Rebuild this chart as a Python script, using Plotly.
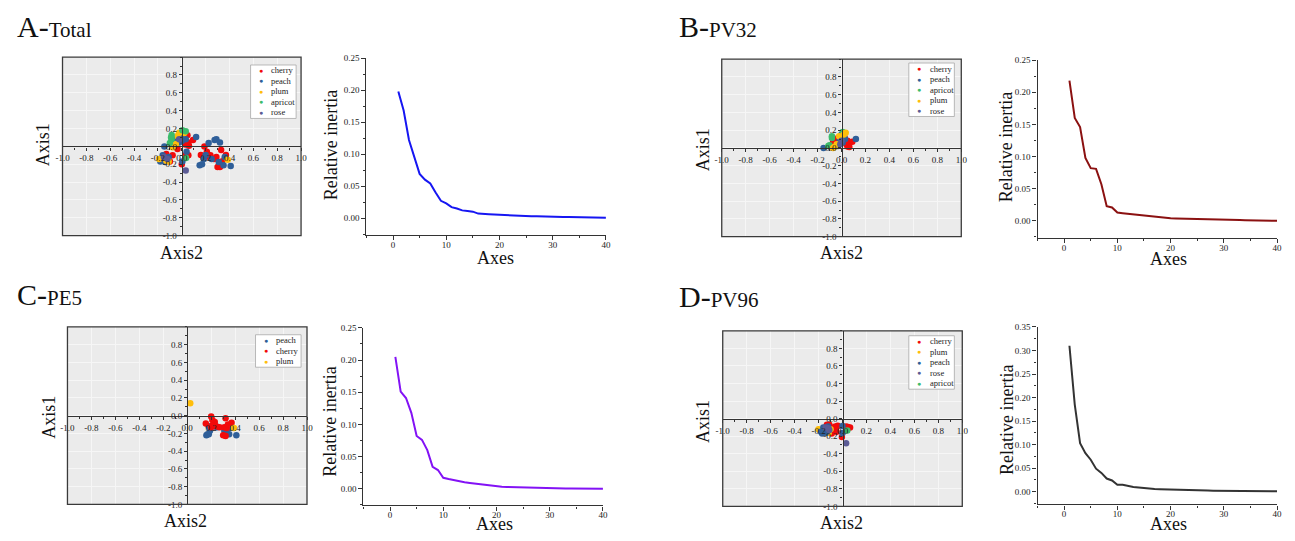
import plotly.graph_objects as go

# The page body has an 8px margin, so the figure is sized to fit the window
# and every layout pixel position is shifted by that margin.
WIN_W, WIN_H, OFF = 1295, 541, 8
W, H = WIN_W - 2 * OFF, WIN_H - 2 * OFF
SERIF = "Liberation Serif, Times New Roman, serif"

COLORS = {"cherry": "#f20a0a", "peach": "#2f5f99", "plum": "#ffbe0b",
          "apricot": "#3cbc6b", "rose": "#5b5b95"}

# ---------------- data ----------------
AXES = list(range(1, 41))

A_INERTIA = [0.198, 0.168, 0.122, 0.096, 0.069, 0.060, 0.054, 0.040, 0.027, 0.023,
             0.017, 0.015, 0.012, 0.011, 0.010, 0.007, 0.006, 0.006, 0.0055, 0.005,
             0.0045, 0.004, 0.004, 0.0035, 0.0033, 0.003, 0.003, 0.0025, 0.0023, 0.002,
             0.0018, 0.0016, 0.0015, 0.0013, 0.0012, 0.001, 0.0009, 0.0007, 0.0005, 0.0003]
B_INERTIA = [0.218, 0.160, 0.146, 0.098, 0.082, 0.081, 0.057, 0.023, 0.021, 0.013,
             0.012, 0.011, 0.010, 0.009, 0.008, 0.007, 0.006, 0.005, 0.0045, 0.004,
             0.0038, 0.0035, 0.0032, 0.003, 0.0028, 0.0026, 0.0024, 0.0022, 0.002, 0.0018,
             0.0016, 0.0014, 0.0013, 0.0012, 0.001, 0.0009, 0.0007, 0.0005, 0.0003, 0.0002]
C_INERTIA = [0.205, 0.151, 0.141, 0.118, 0.082, 0.076, 0.060, 0.034, 0.029, 0.017,
             0.015, 0.013, 0.012, 0.010, 0.009, 0.008, 0.006, 0.0055, 0.005, 0.004,
             0.003, 0.0028, 0.0025, 0.002, 0.0015, 0.0012, 0.001, 0.0009, 0.0007, 0.0005,
             0.0004, 0.0003, 0.0003, 0.0002, 0.0002, 0.0001, 0.0001, 0.0001, 0.0, 0.0]
D_INERTIA = [0.310, 0.185, 0.103, 0.082, 0.068, 0.049, 0.040, 0.028, 0.024, 0.015,
             0.015, 0.012, 0.010, 0.009, 0.0075, 0.007, 0.006, 0.0055, 0.005, 0.0045,
             0.004, 0.0038, 0.0035, 0.0032, 0.003, 0.0028, 0.0025, 0.0022, 0.002, 0.0019,
             0.0018, 0.0016, 0.0015, 0.0014, 0.0013, 0.0012, 0.0011, 0.001, 0.001, 0.001]

A_CHERRY = [(-0.02, 0.106), (0.047, 0.124), (0.055, 0.044), (0.094, 0.073), (0.06, 0.007),
            (0.02, 0.06), (-0.06, 0.05), (-0.036, -0.03), (0.0, -0.2), (0.033, -0.095),
            (0.055, -0.1), (0.19, 0.0), (0.21, -0.06), (0.22, -0.095), (0.23, -0.12),
            (0.16, -0.095), (0.27, -0.14), (0.33, -0.04), (0.37, -0.095), (0.36, -0.14),
            (0.30, -0.23), (0.32, -0.23), (0.335, -0.17), (-0.13, -0.085), (-0.077, -0.1),
            (-0.1, -0.17), (0.29, -0.12), (0.24, -0.10), (0.01, 0.13), (0.03, 0.02)]
A_PEACH = [(0.12, 0.106), (0.225, 0.037), (0.275, 0.073), (0.29, 0.08), (0.32, 0.044),
           (0.15, -0.21), (0.17, -0.2), (0.185, -0.14), (0.25, -0.14), (0.31, -0.175),
           (0.35, -0.21), (0.36, -0.12), (0.41, -0.22), (0.2, -0.095), (-0.17, -0.15),
           (-0.146, -0.16), (-0.16, -0.1), (-0.14, -0.175), (-0.11, -0.12), (-0.18, -0.17),
           (-0.146, 0.0), (-0.05, 0.08), (-0.008, 0.1), (0.005, 0.135), (0.033, 0.08),
           (-0.022, 0.044), (-0.063, 0.026), (0.005, -0.17), (0.04, -0.06), (0.0, 0.06)]
A_PLUM = [(0.385, -0.15), (-0.11, -0.17), (-0.19, -0.14), (-0.077, -0.01), (-0.05, 0.026),
          (-0.036, 0.117), (-0.022, 0.153), (-0.13, -0.16), (0.02, 0.15)]
A_APRICOT = [(-0.085, 0.128), (-0.085, 0.08), (-0.1, 0.037), (0.005, 0.18), (0.033, 0.17),
             (0.036, -0.13), (-0.09, 0.1)]
A_ROSE = [(0.033, -0.27), (-0.022, 0.08), (-0.12, -0.14), (-0.15, -0.12)]

B_CHERRY = [(-0.055, 0.06), (-0.03, 0.11), (-0.02, 0.09), (0.025, 0.12), (0.05, 0.08),
            (0.06, 0.02), (0.09, 0.07), (0.04, 0.04), (0.05, 0.015), (0.065, 0.01),
            (0.0, 0.1), (-0.07, 0.07), (0.03, 0.06)]
B_PEACH = [(-0.15, 0.0), (-0.015, 0.09), (0.01, 0.13), (0.12, 0.1), (0.01, 0.06),
           (-0.03, 0.02), (0.0, 0.15), (0.03, 0.1), (-0.01, 0.11)]
B_APRICOT = [(-0.10, 0.03), (-0.08, 0.11), (-0.08, 0.13), (0.01, 0.18), (-0.11, 0.02)]
B_PLUM = [(-0.07, 0.0), (-0.04, 0.04), (0.035, 0.17), (-0.06, 0.01), (0.02, 0.15), (-0.02, 0.13)]
B_ROSE = [(-0.01, 0.04), (0.0, 0.08)]

C_PEACH = [(0.18, -0.12), (0.19, -0.17), (0.16, -0.22), (0.18, -0.21), (0.24, -0.12),
           (0.25, -0.13), (0.31, -0.17), (0.33, -0.2), (0.35, -0.21), (0.36, -0.14),
           (0.41, -0.22), (0.17, -0.21)]
C_CHERRY = [(0.2, -0.008), (0.155, -0.088), (0.21, -0.05), (0.22, -0.1), (0.24, -0.12),
            (0.20, -0.13), (0.27, -0.13), (0.32, -0.03), (0.31, -0.13), (0.33, -0.14),
            (0.30, -0.22), (0.32, -0.23), (0.37, -0.08), (0.34, -0.1), (0.23, -0.07),
            (0.21, -0.11)]
C_PLUM = [(0.025, 0.14), (0.39, -0.14)]

D_CHERRY = [(0.063, -0.1), (0.03, -0.09), (-0.005, -0.21), (-0.11, -0.07), (-0.08, -0.12),
            (-0.06, -0.09), (-0.05, -0.15), (-0.09, -0.17), (-0.13, -0.07), (-0.04, -0.08),
            (-0.07, -0.1), (0.045, -0.095)]
D_PLUM = [(-0.19, -0.13), (-0.115, -0.16), (-0.2, -0.12), (-0.1, -0.12)]
D_PEACH = [(0.0, -0.085), (0.0, -0.165), (-0.157, -0.146), (-0.17, -0.17), (-0.15, -0.12),
           (-0.14, -0.16), (-0.13, -0.14), (-0.16, -0.1), (-0.12, -0.09), (-0.18, -0.15)]
D_ROSE = [(0.03, -0.28), (-0.11, -0.13), (-0.14, -0.1), (-0.12, -0.11)]
D_APRICOT = [(0.04, -0.135)]

A_POINTS = {"cherry": A_CHERRY, "peach": A_PEACH, "plum": A_PLUM, "apricot": A_APRICOT, "rose": A_ROSE}
B_POINTS = {"cherry": B_CHERRY, "peach": B_PEACH, "apricot": B_APRICOT, "plum": B_PLUM, "rose": B_ROSE}
C_POINTS = {"peach": C_PEACH, "cherry": C_CHERRY, "plum": C_PLUM}
D_POINTS = {"cherry": D_CHERRY, "plum": D_PLUM, "peach": D_PEACH, "rose": D_ROSE, "apricot": D_APRICOT}

SCATTER_TICKS = [-1.0, -0.8, -0.6, -0.4, -0.2, 0.0, 0.2, 0.4, 0.6, 0.8, 1.0]
SCATTER_YTICKS = [-1.0, -0.8, -0.6, -0.4, -0.2, 0.0, 0.2, 0.4, 0.6, 0.8]
LINE_XTICKS = [0, 10, 20, 30, 40]

# ---------------- layout description (window pixels) ----------------
panels = [
    dict(letter="A-", name="Total", title=(8, 22), scatter=(56, 297, 53, 235), line=(363, 605, 54, 234),
         points=A_POINTS, legend=(246, 61), inertia=A_INERTIA, color="#1616f2", ymin=-0.026, ymax=0.25,
         axis1=(37, 142), axis2=(176, 253), rel=(328, 143), axes=(493, 258)),
    dict(letter="B-", name="PV32", title=(677, 22), scatter=(722, 964, 55, 236), line=(1041, 1283, 56, 237),
         points=B_POINTS, legend=(911, 59), inertia=B_INERTIA, color="#8b1111", ymin=-0.026, ymax=0.25,
         axis1=(703, 147), axis2=(843, 253), rel=(1010, 145), axes=(1173, 259)),
    dict(letter="C-", name="PE5", title=(8, 295), scatter=(61, 303, 328, 509), line=(360, 602, 329, 510),
         points=C_POINTS, legend=(251, 336), inertia=C_INERTIA, color="#8312f5", ymin=-0.026, ymax=0.25,
         axis1=(42, 420), axis2=(180, 526), rel=(326, 425), axes=(492, 529)),
    dict(letter="D-", name="PV96", title=(677, 297), scatter=(723, 965, 332, 511), line=(1041, 1283, 328, 509),
         points=D_POINTS, legend=(911, 337), inertia=D_INERTIA, color="#333333", ymin=-0.027, ymax=0.35,
         axis1=(703, 424), axis2=(843, 528), rel=(1010, 423), axes=(1173, 529)),
]

fig = go.Figure()
shapes, annotations, layout_axes = [], [], {}


def px(p):
    return (p - OFF) / W


def py(p):
    return 1 - (p - OFF) / H


tickfont = dict(family=SERIF, size=9, color="#222")

for i, p in enumerate(panels):
    sx, lx = 2 * i + 1, 2 * i + 2
    sxk = "xaxis" if sx == 1 else f"xaxis{sx}"
    syk = "yaxis" if sx == 1 else f"yaxis{sx}"
    sxr = "x" if sx == 1 else f"x{sx}"
    syr = "y" if sx == 1 else f"y{sx}"
    lxk, lyk, lxr, lyr = f"xaxis{lx}", f"yaxis{lx}", f"x{lx}", f"y{lx}"

    x0, x1, y0, y1 = p["scatter"]
    xdom = [px(x0), px(x1)]
    ydom = [py(y1), py(y0)]
    common = dict(range=[-1, 1], anchor="free", showline=True, linecolor="#333", linewidth=1.2,
                  ticks="outside", ticklen=3, tickcolor="#333",
                  minor=dict(ticks="outside", ticklen=2, dtick=0.1, tick0=0, tickcolor="#333", showgrid=False),
                  showgrid=True, gridcolor="#f6f6f6", gridwidth=1, zeroline=False,
                  tickfont=tickfont, fixedrange=True)
    layout_axes[sxk] = dict(domain=xdom, position=(ydom[0] + ydom[1]) / 2, tickvals=SCATTER_TICKS,
                            ticktext=[f"{v:.1f}" for v in SCATTER_TICKS], **common)
    layout_axes[syk] = dict(domain=ydom, position=(xdom[0] + xdom[1]) / 2, tickvals=SCATTER_YTICKS,
                            ticktext=[f"{v:.1f}" for v in SCATTER_YTICKS], **common)
    shapes.append(dict(type="rect", xref=f"{sxr} domain", yref=f"{syr} domain", x0=0, x1=1, y0=0, y1=1,
                       fillcolor="#ebebeb", line=dict(width=0), layer="below"))
    shapes.append(dict(type="rect", xref=f"{sxr} domain", yref=f"{syr} domain", x0=0, x1=1, y0=0, y1=1,
                       fillcolor="rgba(0,0,0,0)", line=dict(color="#3a3a3a", width=1.3), layer="above"))

    for cat, pts in p["points"].items():
        fig.add_trace(go.Scatter(x=[a for a, b in pts], y=[b for a, b in pts], mode="markers", name=cat,
                                 marker=dict(color=COLORS[cat], size=6.5), xaxis=sxr, yaxis=syr,
                                 showlegend=False))

    # legend box (drawn inside the scatter panel)
    lgx, lgy = p["legend"]
    cats = list(p["points"].keys())
    row = 10.7
    shapes.append(dict(type="rect", xref="paper", yref="paper", x0=px(lgx), x1=px(lgx + 46),
                       y0=py(lgy + row * len(cats) + 1), y1=py(lgy), fillcolor="white",
                       line=dict(color="#a8a8a8", width=0.8), layer="above"))
    for j, cat in enumerate(cats):
        cy = lgy + 5.6 + j * row
        annotations.append(dict(xref="paper", yref="paper", x=px(lgx + 10.5), y=py(cy), text="●",
                                showarrow=False, xanchor="center", yanchor="middle",
                                font=dict(size=7, color=COLORS[cat])))
        annotations.append(dict(xref="paper", yref="paper", x=px(lgx + 19), y=py(cy), text=cat,
                                showarrow=False, xanchor="left", yanchor="middle",
                                font=dict(family=SERIF, size=8.5, color="#222")))

    # line chart
    x0, x1, y0, y1 = p["line"]
    ymax = p["ymax"]
    ytv = [round(k * 0.05, 2) for k in range(int(round(ymax / 0.05)) + 1)]
    layout_axes[lxk] = dict(domain=[px(x0), px(x1)], range=[-5, 40], anchor=lyr, tickvals=LINE_XTICKS,
                            ticks="outside", ticklen=4, tickcolor="#333", ticklabelstandoff=-3,
                            minor=dict(ticks="outside", ticklen=2, dtick=5, tick0=0, tickcolor="#333"),
                            showline=True, linecolor="#333", linewidth=1.2, showgrid=False, zeroline=False,
                            tickfont=tickfont, fixedrange=True)
    layout_axes[lyk] = dict(domain=[py(y1), py(y0)], range=[p["ymin"], ymax], anchor=lxr, tickvals=ytv,
                            tickformat=".2f", ticks="outside", ticklen=4, tickcolor="#333",
                            minor=dict(ticks="outside", ticklen=2, dtick=0.025, tick0=0, tickcolor="#333"),
                            showline=True, linecolor="#333", linewidth=1.2, showgrid=False, zeroline=False,
                            tickfont=tickfont, fixedrange=True)
    fig.add_trace(go.Scatter(x=AXES, y=p["inertia"], mode="lines", line=dict(color=p["color"], width=2),
                             xaxis=lxr, yaxis=lyr, showlegend=False, name=p["name"]))

    # texts
    tx, ty = p["title"]
    annotations.append(dict(xref="paper", yref="paper", x=px(tx), y=py(ty), xanchor="left", yanchor="middle",
                            showarrow=False,
                            text=f"{p['letter']}<span style='font-size:21px'>{p['name']}</span>",
                            font=dict(family=SERIF, size=30, color="#111")))
    for key, txt, ang in (("axis1", "Axis1", -90), ("axis2", "Axis2", 0),
                          ("rel", "Relative inertia", -90), ("axes", "Axes", 0)):
        ax_, ay_ = p[key]
        annotations.append(dict(xref="paper", yref="paper", x=px(ax_), y=py(ay_), xanchor="center",
                                yanchor="middle", showarrow=False, text=txt, textangle=ang,
                                font=dict(family=SERIF, size=18, color="#111")))

fig.update_layout(width=W, height=H, margin=dict(l=0, r=0, t=0, b=0), paper_bgcolor="white",
                  plot_bgcolor="white", shapes=shapes, annotations=annotations, showlegend=False,
                  **layout_axes)

fig.write_html("out.html")
